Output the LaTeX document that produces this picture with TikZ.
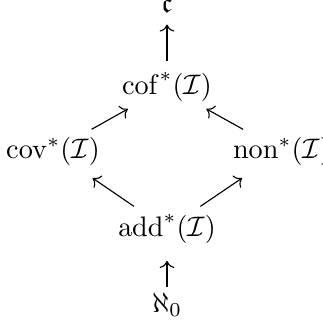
\documentclass[tikz,border=0pt]{standalone}
\usepackage{amsmath,amssymb}
\usetikzlibrary{arrows.meta}
\begin{document}
\begin{tikzpicture}[x=0.01245cm,y=-0.01245cm,
  inv/.style={inner sep=1pt},
  le/.style={->,shorten >=3pt,shorten <=3pt}]
\useasboundingbox (0,0) rectangle (322,324);
% invariants
\node[inv] (c) at (167,6) {$\mathfrak{c}$};
\node[inv] (cof) at (167,87) {$\operatorname{cof}^*(\mathcal{I})$};
\node[inv] (cov) at (53,151) {$\operatorname{cov}^*(\mathcal{I})$};
\node[inv] (non) at (282,151) {$\operatorname{non}^*(\mathcal{I})$};
\node[inv] (add) at (167,229) {$\operatorname{add}^*(\mathcal{I})$};
\node[inv] (aleph) at (167,305) {$\aleph_0$};
% order
\draw[le,shorten <=1pt,shorten >=5pt] (aleph) -- (add);
\draw[le,shorten >=6pt] (add) -- (cov);
\draw[le,shorten >=6pt] (add) -- (non);
\draw[le] (cov) -- (cof);
\draw[le] (non) -- (cof);
\draw[le] (cof) -- (c);
\end{tikzpicture}
\end{document}
